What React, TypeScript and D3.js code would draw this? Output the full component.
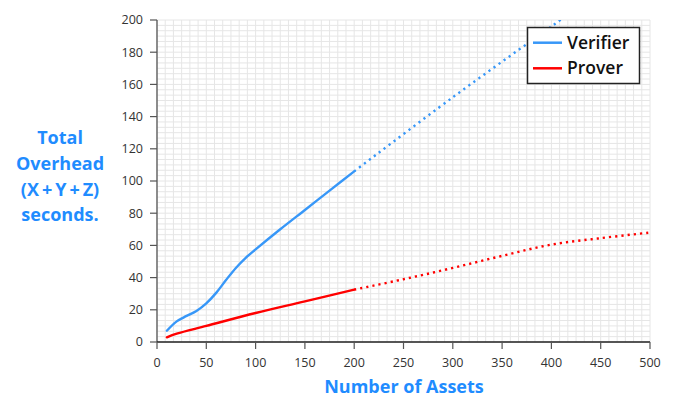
import React from "react";
import * as d3 from "d3";

const verifierSolidX = [10, 20, 30, 40, 50, 60, 70, 80, 90, 100, 125, 150, 175, 200];
const verifierSolidY = [7, 12.8, 16.2, 19.3, 24, 30.5, 38.5, 46, 52.3, 57.5, 70, 82, 94, 106];
const verifierDotX = [200, 300, 400, 500];
const verifierDotY = [106, 152, 196, 240];
const proverSolidX = [10, 20, 50, 100, 150, 200];
const proverSolidY = [2.9, 5.2, 10, 18, 25.2, 32.5];
const proverDotX = [200, 250, 300, 350, 400, 450, 500];
const proverDotY = [32.5, 39, 46, 53.5, 60.5, 64.5, 68];
const xTicks = [0, 50, 100, 150, 200, 250, 300, 350, 400, 450, 500];
const yTicks = [0, 20, 40, 60, 80, 100, 120, 140, 160, 180, 200];
const seriesNames = ["Verifier", "Prover"];
const yLabelLines = ["Total", "Overhead", "(X\u2009+\u2009Y\u2009+\u2009Z)", "seconds."];
const xLabel = "Number of Assets";

const W = 676, H = 398;
const L = 157, R = 650, T = 20, B = 342;
const BLUE = "#3797f8";
const RED = "#ff0000";
const TEXTBLUE = "#1f8cff";

export default function App() {
  const x = d3.scaleLinear().domain([0, 500]).range([L, R]);
  const y = d3.scaleLinear().domain([0, 200]).range([B, T]);
  const line = d3
    .line<[number, number]>()
    .x((d) => x(d[0]))
    .y((d) => y(d[1]))
    .curve(d3.curveCatmullRom.alpha(0.5));
  const zip = (a: number[], b: number[]) => a.map((v, i) => [v, b[i]] as [number, number]);

  const gridX: number[] = [];
  for (let i = 0; i <= 60; i++) gridX.push((i * 50) / 6);
  const gridY: number[] = [];
  for (let i = 0; i <= 60; i++) gridY.push((i * 20) / 6);

  const font = "'Open Sans', 'DejaVu Sans', sans-serif";
  return (
    <svg width={W} height={H} style={{ position: "absolute", left: 0, top: 0 }}>
      <rect width={W} height={H} fill="#fff" />
      <defs>
        <clipPath id="plot">
          <rect x={L} y={T} width={R - L} height={B - T} />
        </clipPath>
      </defs>
      <g>
        {gridX.map((v, i) => (
          <line key={"gx" + i} x1={x(v)} x2={x(v)} y1={T} y2={B} stroke="#e6e6e6" strokeWidth={1} />
        ))}
        {gridY.map((v, i) => (
          <line key={"gy" + i} x1={L} x2={R} y1={y(v)} y2={y(v)} stroke="#e6e6e6" strokeWidth={1} />
        ))}
      </g>
      <g clipPath="url(#plot)" fill="none">
        <path d={line(zip(verifierDotX, verifierDotY)) || ""} stroke={BLUE} strokeWidth={2.4} strokeDasharray="2.2 4" />
        <path d={line(zip(proverDotX, proverDotY)) || ""} stroke={RED} strokeWidth={2.4} strokeDasharray="2.2 4" />
        <path d={line(zip(verifierSolidX, verifierSolidY)) || ""} stroke={BLUE} strokeWidth={2.4} strokeLinecap="round" />
        <path d={line(zip(proverSolidX, proverSolidY)) || ""} stroke={RED} strokeWidth={2.4} strokeLinecap="round" />
      </g>
      {/* axes */}
      <line x1={L} x2={L} y1={T} y2={B} stroke="#555" strokeWidth={1.3} />
      <line x1={L} x2={R} y1={B} y2={B} stroke="#222" strokeWidth={1.3} />
      {yTicks.map((v) => (
        <g key={"yt" + v}>
          <line x1={L - 7} x2={L} y1={y(v)} y2={y(v)} stroke="#555" strokeWidth={1.2} />
          <text x={L - 14} y={y(v)} dy="0.35em" textAnchor="end" fontFamily={font} fontSize={12.5} fill="#333">
            {v}
          </text>
        </g>
      ))}
      {xTicks.map((v) => (
        <g key={"xt" + v}>
          <line x1={x(v)} x2={x(v)} y1={B} y2={B + 7} stroke="#555" strokeWidth={1.2} />
          <text x={x(v)} y={367} textAnchor="middle" fontFamily={font} fontSize={12.5} fill="#333">
            {v}
          </text>
        </g>
      ))}
      {/* labels */}
      <text x={404} y={393} textAnchor="middle" fontFamily={font} fontWeight={700} fontSize={18} fill={TEXTBLUE}>
        {xLabel}
      </text>
      {yLabelLines.map((s, i) => (
        <text
          key={s}
          x={60}
          y={[144, 170, 196, 221][i]}
          textAnchor="middle"
          fontFamily={font}
          fontWeight={700}
          fontSize={18}
          fill={TEXTBLUE}
        >
          {s}
        </text>
      ))}
      {/* legend */}
      <rect x={527.5} y={27.5} width={112} height={56} fill="#fff" stroke="#222" strokeWidth={1.5} />
      {seriesNames.map((s, i) => (
        <g key={s}>
          <line x1={533} x2={562} y1={[42.7, 68.3][i]} y2={[42.7, 68.3][i]} stroke={[BLUE, RED][i]} strokeWidth={2.5} />
          <text x={567} y={[48.5, 73.5][i]} fontFamily={font} fontWeight={600} fontSize={17.5} fill="#111">
            {s}
          </text>
        </g>
      ))}
    </svg>
  );
}
